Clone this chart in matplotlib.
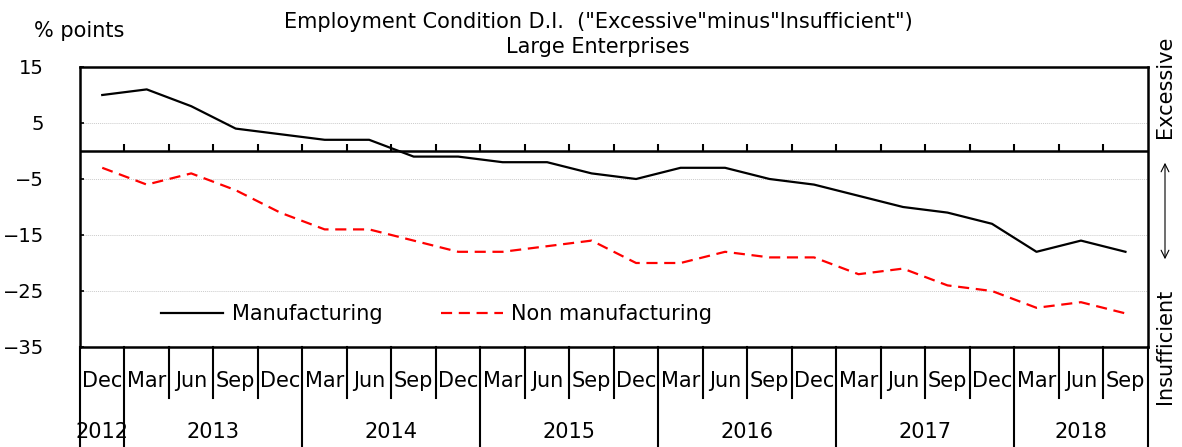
import matplotlib.pyplot as plt

# quarterly survey points, Dec 2012 .. Sep 2018
months = ["Dec", "Mar", "Jun", "Sep", "Dec", "Mar", "Jun", "Sep", "Dec", "Mar", "Jun", "Sep",
          "Dec", "Mar", "Jun", "Sep", "Dec", "Mar", "Jun", "Sep", "Dec", "Mar", "Jun", "Sep"]
years = ["2012", "2013", "2014", "2015", "2016", "2017", "2018"]
year_centers = [0, 2.5, 6.5, 10.5, 14.5, 18.5, 22]
year_breaks = [-0.5, 0.5, 4.5, 8.5, 12.5, 16.5, 20.5, 23.5]

manufacturing = [10, 11, 8, 4, 3, 2, 2, -1, -1, -2, -2, -4,
                 -5, -3, -3, -5, -6, -8, -10, -11, -13, -18, -16, -18]
non_manufacturing = [-3, -6, -4, -7, -11, -14, -14, -16, -18, -18, -17, -16,
                     -20, -20, -18, -19, -19, -22, -21, -24, -25, -28, -27, -29]

fs = 15
fig = plt.figure(figsize=(11.82, 4.47), dpi=100)
ax = fig.add_axes([80 / 1182, 1 - 347 / 447, 1067.7 / 1182, 280 / 447])

x = list(range(len(months)))
ax.plot(x, manufacturing, color="black", lw=1.6, label="Manufacturing")
ax.plot(x, non_manufacturing, color="red", lw=1.6, dashes=(5, 3), label="Non manufacturing")

ax.set_xlim(-0.5, 23.5)
ax.set_ylim(-35, 15)
ax.set_yticks([15, 5, -5, -15, -25, -35])
ax.tick_params(axis="y", direction="in", length=3, pad=26, labelsize=14, width=1.2)
for v in [5, -5, -15, -25]:
    ax.axhline(v, color="#cccccc", lw=0.7, ls=(0, (1, 1)), zorder=0)
ax.axhline(0, color="black", lw=1.8)
# small ticks on the zero line
ax.vlines([k + 0.5 for k in range(23)], 0, 1.2, color="black", lw=1.5)

for s in ax.spines.values():
    s.set_linewidth(1.8)

# month labels and separators below the plot
ax.set_xticks(x, months)
ax.tick_params(axis="x", length=0, pad=17, labelsize=fs)
trans = ax.get_xaxis_transform()
for k in range(25):
    b = k - 0.5
    bottom = -0.357 if b in year_breaks else -0.182
    ax.plot([b, b], [0, bottom], transform=trans, color="black", lw=1.5, clip_on=False)
for yr, c in zip(years, year_centers):
    ax.text(c, -0.304, yr, transform=trans, ha="center", va="center", fontsize=fs)

ax.legend(loc="center", bbox_to_anchor=(0.334, 0.118), ncol=2, frameon=False, fontsize=fs,
          handlelength=3.0, columnspacing=2.8, handletextpad=0.4)

fig.text(598 / 1182, 1 - 22 / 447, 'Employment Condition D.I.  ("Excessive"minus"Insufficient")',
         ha="center", va="center", fontsize=fs)
fig.text(598 / 1182, 1 - 47 / 447, "Large Enterprises", ha="center", va="center", fontsize=fs)
fig.text(34 / 1182, 1 - 31 / 447, "% points", ha="left", va="center", fontsize=fs)

fig.text(1165 / 1182, 1 - 87 / 447, "Excessive", rotation=90, ha="center", va="center", fontsize=fs)
fig.text(1165 / 1182, 1 - 346 / 447, "Insufficient", rotation=90, ha="center", va="center", fontsize=fs)
ax.annotate("", xy=(1165 / 1182, 1 - 160 / 447), xytext=(1165 / 1182, 1 - 262 / 447),
            xycoords="figure fraction", textcoords="figure fraction",
            arrowprops=dict(arrowstyle="<->", color="black", lw=0.8, mutation_scale=14))

fig.savefig("out.png", dpi=100)
